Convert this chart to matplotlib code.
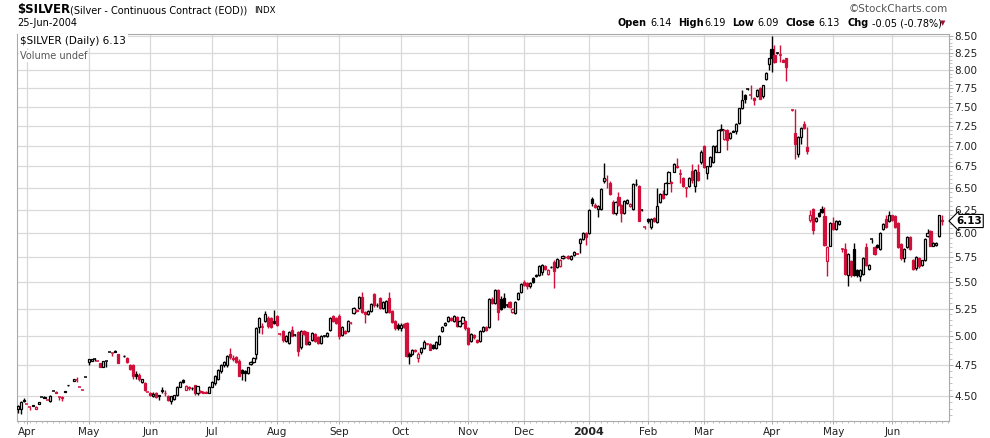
import matplotlib
matplotlib.use("Agg")
import matplotlib.pyplot as plt
from matplotlib.ticker import FixedLocator, NullFormatter

# daily candles, Mar-2003 .. 25-Jun-2004 (None = no quote that day)
opens = [
    4.40, 4.40, 4.46, 4.44, 4.41, 4.42, 4.40, 4.44, 4.49, 4.485,
    4.47, 4.46, 4.54, 4.53, 4.49, 4.49, 4.53, 4.59, None, 4.62,
    4.625, 4.575, 4.55, 4.65, 4.78, 4.79, 4.80, 4.79, 4.77, 4.74,
    4.79, 4.86, 4.855, 4.875, 4.845, None, 4.83, 4.81, 4.75, 4.755,
    4.68, 4.67, 4.61, 4.60, 4.535, 4.52, 4.50, 4.52, 4.505, 4.54,
    4.525, 4.50, 4.46, 4.475, 4.51, 4.575, 4.625, 4.55, 4.575, 4.565,
    4.585, 4.52, 4.54, 4.53, 4.53, 4.52, 4.575, 4.60, 4.64, 4.70,
    4.755, 4.75, 4.85, 4.81, 4.82, 4.79, 4.71, 4.70, 4.69, 4.76,
    4.78, 4.85, 5.08, 5.08, 5.14, 5.16, 5.16, 5.14, 5.18, 5.02,
    5.05, 4.96, 4.94, 5.06, 5.01, 5.04, 4.91, 5.05, 5.04, 4.93,
    4.97, 5.02, 4.99, 4.94, 5.00, 5.00, 5.06, 5.18, 5.16, 5.18,
    5.01, 5.05, 5.05, 5.12, 5.21, 5.23, 5.26, 5.36, 5.22, 5.20,
    5.23, 5.39, 5.28, 5.35, 5.26, 5.22, 5.35, 5.23, 5.14, 5.10,
    5.07, 5.11, 5.12, 4.85, 4.85, 4.88, 4.81, 4.86, 4.90, 4.93,
    4.93, 4.92, 4.90, 4.93, 5.05, 5.10, 5.14, 5.16, 5.14, 5.17,
    5.09, 5.12, 5.14, 5.07, 4.96, 5.01, 4.97, 4.96, 5.05, 5.08,
    5.08, 5.34, 5.30, 5.43, 5.34, 5.35, 5.28, 5.31, 5.22, 5.21,
    5.34, 5.41, 5.50, 5.49, 5.46, 5.54, 5.56, 5.57, 5.60, 5.66,
    5.58, 5.65, 5.70, 5.65, 5.66, 5.74, 5.75, 5.76, 5.73, 5.77,
    5.78, 5.90, 5.94, 6.00, 6.00, 6.37, 6.31, 6.26, 6.26, 6.58,
    6.59, 6.56, 6.34, 6.22, 6.40, 6.31, 6.22, 6.33, 6.29, 6.26,
    6.54, 6.52, 6.25, 6.06, 6.15, 6.07, 6.16, 6.12, 6.34, 6.43,
    6.43, 6.56, 6.55, 6.69, 6.75, 6.66, 6.61, 6.50, 6.52, 6.70,
    6.52, 6.69, 6.80, 7.00, 6.67, 6.75, 6.80, 6.93, 6.93, 7.21,
    7.08, 7.20, 7.10, 7.19, 7.19, 7.29, 7.48, 7.66, 7.74, 7.66,
    7.62, 7.64, 7.76, 7.64, 7.88, 8.09, 8.30, 8.22, 8.25, 8.22,
    8.15, 8.17, None, 7.46, 7.16, 6.90, 7.11, 7.27, 6.99, 6.14,
    6.26, 6.13, 6.22, 6.26, 6.18, 5.71, 5.87, 6.11, 6.04, 6.10,
    5.83, 5.83, 5.57, 5.71, 5.83, 5.62, 5.56, 5.58, 5.85, 5.63,
    5.94, 5.85, 5.88, 5.83, 6.04, 6.15, 6.13, 6.19, 6.18, 6.11,
    5.89, 5.74, 5.85, 5.96, 5.72, 5.64, 5.74, 5.67, 5.72, 5.97,
    6.02, 5.87, 5.88, 5.97, 6.14,
]
highs = [
    4.43, 4.46, 4.48, 4.44, 4.41, 4.43, 4.42, 4.45, 4.49, 4.50,
    4.47, 4.51, 4.54, 4.54, 4.49, 4.50, 4.54, 4.59, None, 4.64,
    4.65, 4.575, 4.55, 4.65, 4.80, 4.80, 4.81, 4.79, 4.77, 4.79,
    4.79, 4.86, 4.855, 4.88, 4.85, None, 4.84, 4.82, 4.76, 4.76,
    4.70, 4.69, 4.64, 4.61, 4.535, 4.53, 4.53, 4.53, 4.51, 4.57,
    4.55, 4.51, 4.50, 4.51, 4.58, 4.62, 4.64, 4.59, 4.58, 4.57,
    4.59, 4.58, 4.55, 4.54, 4.54, 4.58, 4.62, 4.67, 4.72, 4.76,
    4.79, 4.84, 4.90, 4.84, 4.83, 4.80, 4.72, 4.71, 4.74, 4.79,
    4.82, 5.08, 5.17, 5.12, 5.23, 5.18, 5.17, 5.24, 5.19, 5.03,
    5.06, 5.01, 5.05, 5.09, 5.02, 5.05, 5.06, 5.06, 5.05, 4.96,
    5.04, 5.03, 5.00, 5.01, 5.01, 5.04, 5.17, 5.19, 5.17, 5.20,
    5.09, 5.06, 5.15, 5.13, 5.27, 5.25, 5.37, 5.41, 5.23, 5.24,
    5.30, 5.40, 5.30, 5.36, 5.32, 5.33, 5.41, 5.24, 5.15, 5.12,
    5.12, 5.12, 5.13, 4.86, 4.89, 4.89, 4.86, 4.91, 4.97, 4.94,
    4.94, 4.93, 4.96, 5.01, 5.09, 5.13, 5.18, 5.17, 5.19, 5.18,
    5.15, 5.18, 5.15, 5.08, 5.03, 5.02, 4.98, 5.06, 5.09, 5.09,
    5.35, 5.36, 5.44, 5.44, 5.37, 5.40, 5.29, 5.32, 5.26, 5.32,
    5.41, 5.49, 5.52, 5.50, 5.50, 5.55, 5.58, 5.67, 5.68, 5.67,
    5.63, 5.66, 5.72, 5.74, 5.73, 5.77, 5.76, 5.77, 5.77, 5.81,
    5.79, 5.95, 6.01, 6.01, 6.26, 6.39, 6.33, 6.31, 6.50, 6.79,
    6.65, 6.58, 6.36, 6.35, 6.45, 6.32, 6.36, 6.37, 6.33, 6.55,
    6.60, 6.53, 6.26, 6.08, 6.16, 6.16, 6.17, 6.50, 6.44, 6.48,
    6.57, 6.70, 6.58, 6.79, 6.85, 6.72, 6.62, 6.51, 6.62, 6.78,
    6.72, 6.78, 6.95, 7.01, 6.76, 6.87, 7.01, 7.01, 7.21, 7.27,
    7.21, 7.21, 7.17, 7.20, 7.29, 7.49, 7.72, 7.67, 7.76, 7.80,
    7.63, 7.74, 7.77, 7.80, 7.97, 8.18, 8.50, 8.36, 8.26, 8.36,
    8.16, 8.18, None, 7.47, 7.47, 7.12, 7.24, 7.31, 7.24, 6.25,
    6.27, 6.17, 6.23, 6.30, 6.28, 5.86, 6.12, 6.17, 6.14, 6.14,
    5.84, 5.90, 5.79, 5.72, 5.90, 5.63, 5.63, 5.75, 5.90, 5.68,
    5.94, 5.86, 5.89, 6.01, 6.11, 6.19, 6.24, 6.20, 6.19, 6.12,
    5.90, 5.84, 5.97, 5.97, 5.73, 5.76, 5.75, 5.72, 5.95, 6.04,
    6.03, 5.91, 5.91, 6.20, 6.19,
]
lows = [
    4.37, 4.36, 4.45, 4.44, 4.39, 4.42, 4.40, 4.44, 4.49, 4.48,
    4.47, 4.45, 4.54, 4.52, 4.47, 4.46, 4.53, 4.58, None, 4.62,
    4.61, 4.575, 4.55, 4.65, 4.75, 4.79, 4.79, 4.79, 4.74, 4.74,
    4.74, 4.86, 4.83, 4.86, 4.77, None, 4.82, 4.77, 4.71, 4.64,
    4.64, 4.62, 4.60, 4.54, 4.535, 4.50, 4.49, 4.48, 4.47, 4.52,
    4.50, 4.46, 4.44, 4.47, 4.50, 4.57, 4.60, 4.55, 4.55, 4.55,
    4.51, 4.51, 4.52, 4.52, 4.52, 4.52, 4.57, 4.59, 4.63, 4.69,
    4.74, 4.74, 4.80, 4.79, 4.77, 4.66, 4.63, 4.62, 4.68, 4.75,
    4.77, 4.80, 5.03, 5.02, 5.13, 5.07, 5.07, 5.11, 5.09, 5.01,
    4.95, 4.95, 4.93, 5.00, 5.00, 4.83, 4.89, 5.01, 4.92, 4.92,
    4.96, 4.95, 4.93, 4.93, 4.99, 4.99, 5.05, 5.13, 5.11, 4.98,
    5.00, 5.02, 5.04, 5.11, 5.20, 5.22, 5.25, 5.21, 5.12, 5.19,
    5.22, 5.27, 5.27, 5.25, 5.25, 5.21, 5.21, 5.12, 5.06, 5.06,
    5.05, 5.07, 4.82, 4.76, 4.84, 4.86, 4.78, 4.85, 4.89, 4.92,
    4.88, 4.89, 4.89, 4.92, 5.04, 5.09, 5.13, 5.14, 5.13, 5.08,
    5.08, 5.11, 5.06, 4.92, 4.95, 4.98, 4.94, 4.95, 5.04, 5.05,
    5.07, 5.29, 5.29, 5.15, 5.24, 5.26, 5.27, 5.26, 5.21, 5.20,
    5.33, 5.40, 5.46, 5.44, 5.45, 5.49, 5.55, 5.56, 5.57, 5.62,
    5.57, 5.64, 5.45, 5.64, 5.65, 5.73, 5.74, 5.73, 5.72, 5.76,
    5.78, 5.79, 5.93, 5.88, 5.99, 6.30, 6.27, 6.17, 6.25, 6.55,
    6.50, 6.42, 6.21, 6.20, 6.30, 6.12, 6.21, 6.32, 6.28, 6.25,
    6.52, 6.13, 6.24, 6.04, 6.11, 6.04, 6.12, 6.11, 6.33, 6.37,
    6.42, 6.55, 6.45, 6.68, 6.73, 6.55, 6.51, 6.40, 6.51, 6.55,
    6.45, 6.58, 6.78, 6.73, 6.60, 6.74, 6.79, 6.92, 6.92, 7.19,
    7.07, 6.95, 7.09, 7.17, 7.15, 7.28, 7.47, 7.55, 7.72, 7.60,
    7.52, 7.63, 7.60, 7.62, 7.87, 8.00, 7.97, 8.10, 8.24, 8.12,
    8.12, 7.85, None, 7.45, 6.84, 6.86, 7.02, 7.21, 6.90, 6.12,
    5.99, 6.12, 6.17, 6.22, 5.87, 5.56, 5.86, 6.03, 6.03, 6.09,
    5.80, 5.57, 5.46, 5.55, 5.56, 5.55, 5.51, 5.57, 5.66, 5.62,
    5.90, 5.77, 5.84, 5.82, 6.03, 6.05, 6.12, 6.13, 6.05, 5.84,
    5.72, 5.70, 5.84, 5.82, 5.62, 5.62, 5.64, 5.66, 5.71, 5.96,
    5.86, 5.86, 5.86, 5.96, 6.09,
]
closes = [
    4.42, 4.45, 4.47, 4.44, 4.41, 4.43, 4.415, 4.45, 4.49, 4.495,
    4.47, 4.50, 4.54, 4.52, 4.49, 4.48, 4.54, 4.585, None, 4.635,
    4.625, 4.575, 4.55, 4.65, 4.80, 4.80, 4.80, 4.79, 4.74, 4.79,
    4.79, 4.86, 4.855, 4.86, 4.77, None, 4.825, 4.78, 4.72, 4.66,
    4.66, 4.64, 4.64, 4.55, 4.535, 4.505, 4.515, 4.49, 4.50, 4.545,
    4.52, 4.47, 4.50, 4.505, 4.575, 4.61, 4.61, 4.58, 4.56, 4.56,
    4.52, 4.58, 4.53, 4.525, 4.52, 4.575, 4.61, 4.66, 4.71, 4.75,
    4.78, 4.83, 4.82, 4.80, 4.78, 4.66, 4.69, 4.69, 4.735, 4.78,
    4.81, 5.07, 5.16, 5.08, 5.20, 5.09, 5.08, 5.12, 5.10, 5.02,
    4.97, 5.00, 5.04, 5.00, 5.01, 4.87, 5.05, 5.02, 4.93, 4.95,
    5.03, 4.96, 4.94, 5.00, 5.00, 5.03, 5.16, 5.14, 5.12, 5.00,
    5.08, 5.03, 5.14, 5.12, 5.26, 5.24, 5.36, 5.22, 5.20, 5.23,
    5.29, 5.28, 5.285, 5.26, 5.31, 5.32, 5.22, 5.13, 5.07, 5.07,
    5.10, 5.08, 4.83, 4.83, 4.88, 4.87, 4.85, 4.90, 4.95, 4.93,
    4.88, 4.90, 4.95, 5.00, 5.08, 5.12, 5.17, 5.15, 5.18, 5.09,
    5.14, 5.17, 5.07, 4.93, 5.02, 4.99, 4.95, 5.05, 5.08, 5.06,
    5.34, 5.30, 5.43, 5.22, 5.25, 5.27, 5.28, 5.27, 5.25, 5.31,
    5.40, 5.48, 5.47, 5.46, 5.49, 5.50, 5.57, 5.66, 5.67, 5.63,
    5.62, 5.655, 5.61, 5.73, 5.72, 5.76, 5.755, 5.74, 5.76, 5.80,
    5.78, 5.94, 6.00, 5.96, 6.25, 6.33, 6.28, 6.30, 6.49, 6.61,
    6.59, 6.43, 6.22, 6.34, 6.31, 6.22, 6.35, 6.36, 6.32, 6.54,
    6.545, 6.13, 6.25, 6.06, 6.13, 6.15, 6.13, 6.29, 6.43, 6.38,
    6.56, 6.68, 6.57, 6.78, 6.74, 6.66, 6.52, 6.50, 6.61, 6.59,
    6.71, 6.59, 6.93, 6.74, 6.75, 6.86, 7.00, 7.00, 7.20, 7.205,
    7.20, 7.07, 7.16, 7.18, 7.28, 7.48, 7.59, 7.61, 7.74, 7.66,
    7.59, 7.73, 7.61, 7.79, 7.96, 8.17, 8.17, 8.12, 8.25, 8.22,
    8.12, 8.05, None, 7.46, 7.02, 7.11, 7.23, 7.22, 6.94, 6.19,
    6.03, 6.16, 6.18, 6.23, 5.88, 5.85, 6.11, 6.04, 6.13, 6.13,
    5.83, 5.58, 5.78, 5.57, 5.57, 5.57, 5.62, 5.74, 5.67, 5.67,
    5.94, 5.78, 5.85, 6.00, 6.10, 6.06, 6.19, 6.14, 6.06, 5.85,
    5.74, 5.83, 5.96, 5.83, 5.63, 5.75, 5.66, 5.72, 5.94, 6.00,
    5.87, 5.90, 5.90, 6.19, 6.13,
]

month_labels = ["Apr", "May", "Jun", "Jul", "Aug", "Sep", "Oct", "Nov",
                "Dec", "2004", "Feb", "Mar", "Apr", "May", "Jun"]
month_starts = [3, 24, 45, 66, 88, 109, 130, 153, 172, 194, 214, 233, 256, 277, 297]
price_ticks = [4.50, 4.75, 5.00, 5.25, 5.50, 5.75, 6.00, 6.25, 6.50,
               6.75, 7.00, 7.25, 7.50, 7.75, 8.00, 8.25, 8.50]

RED = "#d0103a"
GRID = "#d9d9d9"
W, H = 990, 438

fig = plt.figure(figsize=(W / 100, H / 100), dpi=100)
ax = fig.add_axes([17 / W, 17 / H, 932 / W, 387 / H])
ax.set_yscale("log")

# candles: hollow = close above open, red = close below previous close
prev = None
for i in range(len(closes)):
    o, h, l, c = opens[i], highs[i], lows[i], closes[i]
    if c is None:
        continue
    col = "black" if prev is None or c >= prev else RED
    prev = c
    ax.vlines(i, l, h, color=col, linewidth=1.0, zorder=3)
    lo, hi = min(o, c), max(o, c)
    if hi - lo < 0.004:
        ax.hlines(c, i - 0.5, i + 0.5, color=col, linewidth=1.1, zorder=4)
    else:
        face = "white" if c > o else col
        ax.bar(i, hi - lo, bottom=lo, width=0.72, facecolor=face,
               edgecolor=col, linewidth=0.9, zorder=4)

ax.set_xlim(-0.34, 316.3)
ax.set_ylim(4.305, 8.53)

ax.yaxis.tick_right()
ax.yaxis.set_major_locator(FixedLocator(price_ticks))
ax.set_yticklabels(["%.2f" % p for p in price_ticks])
ax.yaxis.set_minor_locator(FixedLocator([4.35 + 0.05 * k for k in range(84)]))
ax.yaxis.set_minor_formatter(NullFormatter())
ax.tick_params(axis="y", which="major", length=3, width=0.6, color="#999999",
               labelsize=7.5, pad=1, labelcolor="#222222")
ax.tick_params(axis="y", which="minor", length=2, width=0.5, color="#aaaaaa")

ax.set_xticks(month_starts)
ax.set_xticklabels(month_labels)
ax.xaxis.set_minor_locator(FixedLocator(range(0, 317, 2)))
ax.tick_params(axis="x", which="major", length=2, width=0.6, color="#999999",
               labelsize=7.5, pad=2, labelcolor="#222222")
ax.tick_params(axis="x", which="minor", length=1.5, width=0.5, color="#aaaaaa")
for lab in ax.get_xticklabels():
    if lab.get_text() == "2004":
        lab.set_fontweight("bold")
        lab.set_fontsize(8)

ax.grid(True, which="major", color=GRID, linewidth=0.9, zorder=0)
ax.set_axisbelow(True)
for s in ax.spines.values():
    s.set_color("#aaaaaa")
    s.set_linewidth(0.8)

# last price marker
ax.annotate("6.13", xy=(1.0, closes[-1]), xycoords=("axes fraction", "data"),
            xytext=(5, 0), textcoords="offset points", va="center", ha="left",
            fontsize=7.5, fontweight="bold",
            bbox=dict(boxstyle="larrow,pad=0.15", fc="white", ec="black", lw=0.8),
            annotation_clip=False)

# legend box in the plot
ax.text(0.003, 0.995, "$SILVER (Daily) 6.13", transform=ax.transAxes,
        ha="left", va="top", fontsize=7.5, color="black", zorder=6,
        bbox=dict(boxstyle="square,pad=0.2", fc="white", ec="none"))
ax.text(0.003, 0.955, "Volume undef", transform=ax.transAxes,
        ha="left", va="top", fontsize=7, color="#555555", zorder=6,
        bbox=dict(boxstyle="square,pad=0.1", fc="white", ec="none"))


def ftext(px, py, s, **kw):
    fig.text(px / W, 1 - py / H, s, va="center", **kw)


ftext(17, 10, "$SILVER", fontsize=8.5, fontweight="bold")
ftext(70, 10.5, "(Silver - Continuous Contract (EOD))", fontsize=7)
ftext(254, 10.5, "INDX", fontsize=6.2)
ftext(17, 23, "25-Jun-2004", fontsize=7)
ftext(948, 9, "\u00a9StockCharts.com", fontsize=7.5, color="#555555", ha="right")

parts = [(618, "Open", True), (650, "6.14", False), (678, "High", True),
         (704, "6.19", False), (732, "Low", True), (757, "6.09", False),
         (786, "Close", True), (818, "6.13", False), (848, "Chg", True),
         (872, "-0.05 (-0.78%)", False)]
for px, s, bold in parts:
    ftext(px, 23, s, fontsize=7, fontweight="bold" if bold else "normal")
ftext(943, 23, "\u25bc", fontsize=5, color="#a01030", ha="center")

fig.savefig("out.png", dpi=100, facecolor="white")
